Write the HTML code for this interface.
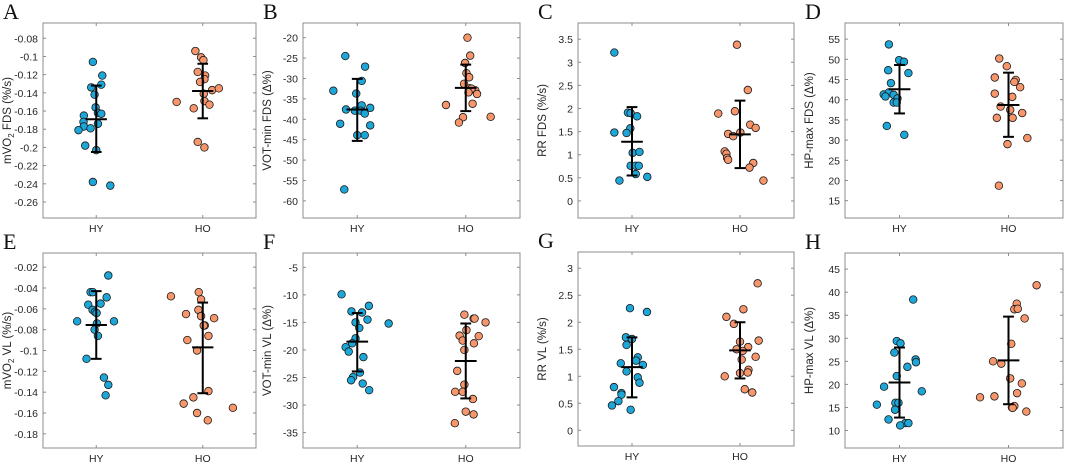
<!DOCTYPE html>
<html><head><meta charset="utf-8"><style>
html,body{margin:0;padding:0;background:#fff;}
svg{display:block;font-family:"Liberation Sans",Arial,sans-serif;}
</style></head><body>
<svg id="fig" width="1065" height="463" viewBox="0 0 1065 463"></svg>
<script>
// ---- Data ----
const categories = ["HY","HO"];
// Panel A: mVO2 FDS
const aTicks = [-0.08,-0.1,-0.12,-0.14,-0.16,-0.18,-0.2,-0.22,-0.24,-0.26];
const aHY = [-0.106,-0.121,-0.131,-0.134,-0.142,-0.156,-0.162,-0.163,-0.165,-0.172,-0.174,-0.177,-0.179,-0.181,-0.198,-0.203,-0.238,-0.242];
const aHYj = [-10,18,15,-15,-5,-2,5,15,-37,-38,5,-37,-17,-53,-33,0,-10,42];
const aHO = [-0.094,-0.101,-0.104,-0.117,-0.121,-0.125,-0.128,-0.137,-0.135,-0.141,-0.149,-0.153,-0.150,-0.157,-0.194,-0.200];
const aHOj = [-22,-5,2,-15,7,5,-8,28,48,3,5,20,-78,-27,-15,5];
const aStats = [[-0.169,-0.132,-0.205],[-0.138,-0.108,-0.168]];
// Panel B: VOT-min FDS
const bTicks = [-20,-25,-30,-35,-40,-45,-50,-55,-60];
const bHY = [-24.5,-27.1,-33,-30.6,-33.7,-37.6,-36.6,-37.2,-37.9,-37.9,-38.6,-41.1,-41.5,-43.9,-43.9,-57.2];
const bHYj = [-35,23,-70,13,-3,-33,13,38,-7,10,22,-50,38,0,22,-38];
const bHO = [-20,-24.4,-26.2,-28.7,-29.7,-31.3,-32.4,-32.9,-32.5,-33.4,-33.8,-36.2,-36.5,-39.5,-40.8,-39.4];
const bHOj = [5,13,-2,2,10,-5,12,28,17,8,33,20,-58,-8,-20,73];
const bStats = [[-37.6,-30.1,-45.3],[-32.3,-26.6,-38]];
// Panel C: RR FDS
const cTicks = [0,0.5,1,1.5,2,2.5,3,3.5];
const cTickLabels = ["0","0.5","1","1.5","2","2.5","3","3.5"];
const cHY = [3.21,1.48,1.91,1.9,1.83,1.57,1.47,1.04,1.06,0.76,0.76,0.76,0.58,0.52,0.44];
const cHYj = [-52,-52,-12,-4,15,-5,-16,2,22,-4,11,20,11,45,-37];
const cHO = [3.38,2.4,1.89,1.94,1.45,1.4,1.48,1.65,1.58,1.07,1.02,0.93,0.89,0.82,0.72,0.44];
const cHOj = [-9,23,-64,-15,-35,-20,1,30,46,-45,-40,-38,-35,39,28,69];
const cStats = [[1.28,2.03,0.55],[1.44,2.17,0.71]];
// Panel D: HP-max FDS
const dTicks = [15,20,25,30,35,40,45,50,55];
const dHY = [53.7,49.8,49.4,47.3,46.6,44.1,41.3,41.8,40.8,41.2,40.3,39.3,39.3,33.5,31.3];
const dHYj = [-31,-1,13,-33,26,-25,-46,-31,-41,-17,-6,-17,-8,-37,14];
const dHO = [50.2,48.3,45.5,44.9,44.4,43.1,41.5,40.7,38.3,37.5,35.5,35.5,36.7,29.0,30.5,18.7];
const dHOj = [-27,-5,-40,21,17,34,-40,11,-23,5,-34,12,40,-3,55,-28];
const dStats = [[42.6,48.6,36.6],[38.7,46.7,30.8]];
// Panel E: mVO2 VL
const eTicks = [-0.02,-0.04,-0.06,-0.08,-0.1,-0.12,-0.14,-0.16,-0.18];
const eHY = [-0.028,-0.044,-0.044,-0.049,-0.056,-0.055,-0.061,-0.063,-0.064,-0.072,-0.072,-0.074,-0.080,-0.086,-0.108,-0.126,-0.133,-0.143];
const eHYj = [36,-17,-10,31,-24,13,-11,-4,1,-57,53,2,-5,5,-29,23,36,28];
const eHO = [-0.048,-0.044,-0.051,-0.065,-0.061,-0.067,-0.069,-0.076,-0.076,-0.086,-0.090,-0.100,-0.139,-0.145,-0.151,-0.160,-0.167,-0.155];
const eHOj = [-95,-12,-5,-50,-13,-5,34,6,3,17,-46,-17,17,-28,-57,-17,15,90];
const eStats = [[-0.0755,-0.043,-0.108],[-0.097,-0.054,-0.141]];
// Panel F: VOT-min VL
const fTicks = [-5,-10,-15,-20,-25,-30,-35];
const fHY = [-9.9,-13,-13.2,-12,-14.5,-15,-15.2,-16,-17.9,-18.8,-19.5,-20.3,-21.3,-24.1,-24.9,-25.5,-26.1,-27.3];
const fHYj = [-46,-17,14,34,30,-5,92,6,-5,-15,-34,-25,18,8,-12,-18,16,35];
const fHO = [-13.6,-14.3,-14.3,-15,-16.4,-17.4,-17.5,-18.3,-18.8,-20,-23.8,-26.3,-27.6,-27.6,-28.9,-31.2,-31.7,-33.3];
const fHOj = [-4,23,26,58,2,-18,38,-9,24,-4,-25,-4,-31,-9,21,0,23,-32];
const fStats = [[-18.5,-13.3,-23.9],[-22,-15.2,-28.8]];
// Panel G: RR VL
const gTicks = [0,0.5,1,1.5,2,2.5,3];
const gTickLabels = ["0","0.5","1","1.5","2","2.5","3"];
const gHY = [2.26,2.19,1.72,1.69,1.58,1.35,1.29,1.24,1.21,1.09,0.98,0.88,0.8,0.69,0.66,0.54,0.46,0.38];
const gHYj = [-6,44,-18,0,-16,17,12,-33,32,-16,17,22,-53,-31,-31,-40,-59,-4];
const gHO = [2.72,2.24,2.1,1.97,1.64,1.66,1.54,1.5,1.47,1.36,1.31,1.12,1.06,1.07,1.0,0.76,0.7];
const gHOj = [52,10,-40,-18,0,55,24,-10,8,46,5,25,0,23,-45,14,36];
const gStats = [[1.17,1.72,0.61],[1.48,2.0,0.96]];
// Panel H: HP-max VL
const hTicks = [10,15,20,25,30,35,40,45];
const hHY = [38.4,29.4,28.9,26.9,25.4,24.8,23.8,21.8,19.5,18.5,16,16,15.6,14.5,12.4,11.6,11.6,11.1];
const hHYj = [40,-8,3,-15,47,48,23,-8,-45,65,-12,-3,-66,-13,-32,17,26,2];
const hHO = [41.5,37.5,36.3,36.4,34.3,28.8,25,24.5,21.3,20.2,18.1,17.2,17.4,15.3,15,14.9,14.1];
const hHOj = [82,24,17,27,47,8,-45,-21,5,39,25,-83,-41,17,10,12,52];
const hStats = [[20.4,28,12.8],[25.2,34.7,15.7]];

const panels = [
 {id:"A",box:[43,23,256,218],ylim:[-0.2776,-0.0632],ticks:aTicks,labels:null,hy:aHY,hyj:aHYj,ho:aHO,hoj:aHOj,st:aStats,yl:["mVO","2"," FDS  (%/s)"]},
 {id:"B",box:[303,23,520,218],ylim:[-64.2,-16.4],ticks:bTicks,labels:null,hy:bHY,hyj:bHYj,ho:bHO,hoj:bHOj,st:bStats,yl:["VOT-min  FDS  (Δ%)"]},
 {id:"C",box:[578,23,794,218],ylim:[-0.37,3.85],ticks:cTicks,labels:cTickLabels,hy:cHY,hyj:cHYj,ho:cHO,hoj:cHOj,st:cStats,yl:["RR FDS (%/s)"]},
 {id:"D",box:[845,23,1063,218],ylim:[10.7,59.0],ticks:dTicks,labels:null,hy:dHY,hyj:dHYj,ho:dHO,hoj:dHOj,st:dStats,yl:["HP-max  FDS  (Δ%)"]},
 {id:"E",box:[43,253,256,448],ylim:[-0.1936,-0.0064],ticks:eTicks,labels:null,hy:eHY,hyj:eHYj,ho:eHO,hoj:eHOj,st:eStats,yl:["mVO","2","  VL  (%/s)"]},
 {id:"F",box:[303,253,520,448],ylim:[-37.8,-2.4],ticks:fTicks,labels:null,hy:fHY,hyj:fHYj,ho:fHO,hoj:fHOj,st:fStats,yl:["VOT-min  VL  (Δ%)"]},
 {id:"G",box:[578,252,794,446],ylim:[-0.29,3.3],ticks:gTicks,labels:gTickLabels,hy:gHY,hyj:gHYj,ho:gHO,hoj:gHOj,st:gStats,yl:["RR VL (%/s)"]},
 {id:"H",box:[845,253,1063,448],ylim:[6.2,48.5],ticks:hTicks,labels:null,hy:hHY,hyj:hHYj,ho:hHO,hoj:hHOj,st:hStats,yl:["HP-max  VL  (Δ%)"]}
];
const NS="http://www.w3.org/2000/svg";
const svg=document.getElementById('fig');
function mk(tag,attrs,parent){const e=document.createElementNS(NS,tag);for(const k in attrs)e.setAttribute(k,attrs[k]);(parent||svg).appendChild(e);return e;}
panels.forEach(p=>{
  const [x0,y0,x1,y1]=p.box;
  const g=mk('g',{});
  
  
  const xS=v=>x0+(v-0.5)/2*(x1-x0);
  const yS=v=>y1-(v-p.ylim[0])/(p.ylim[1]-p.ylim[0])*(y1-y0);
  const lt=mk('text',{x:x0-40,y:y0-4,'font-family':'Liberation Serif,serif','font-size':22,fill:'#111'},g);
  lt.textContent=p.id;
  
  
  const bx=mk('rect',{x:x0,y:y0,width:x1-x0,height:y1-y0,fill:'#fff',stroke:'#8c8c8c','stroke-width':1},g);
  
  
  p.ticks.forEach((t,i)=>{
    const y=yS(t);
    mk('line',{x1:x0,x2:x0+3,y1:y,y2:y,stroke:'#8c8c8c'},g);
    mk('line',{x1:x1,x2:x1-3,y1:y,y2:y,stroke:'#8c8c8c'},g);
    const tx=mk('text',{x:x0-5,y:y+4,'text-anchor':'end','font-size':10.5,fill:'#262626'},g);
    tx.textContent=p.labels?p.labels[i]:String(t);
    
    
  });
  categories.forEach((c,i)=>{
    const x=xS(i+1);
    mk('line',{x1:x,x2:x,y1:y1,y2:y1-3,stroke:'#8c8c8c'},g);
    mk('line',{x1:x,x2:x,y1:y0,y2:y0+3,stroke:'#8c8c8c'},g);
    const tx=mk('text',{x:x,y:y1+14,'text-anchor':'middle','font-size':10.5,fill:'#262626'},g);
    tx.textContent=c;
    
    
  });
  const yc=(y0+y1)/2;
  const yl=mk('text',{x:0,y:0,'text-anchor':'middle','font-size':11.5,fill:'#262626',transform:`translate(${x0-32},${yc}) rotate(-90)`},g);
  
  
  if(p.yl.length===3){
    const a=mk('tspan',{},yl);a.textContent=p.yl[0];
    const b=mk('tspan',{'font-size':8,dy:3},yl);b.textContent=p.yl[1];
    const c=mk('tspan',{dy:-3},yl);c.textContent=p.yl[2];
  } else yl.textContent=p.yl[0];
  const groups=[[p.hy,p.hyj,1,'#1da6d8','hy'],[p.ho,p.hoj,2,'#f7956b','ho']];
  groups.forEach(([vals,jit,cx,col,nm])=>{
    vals.forEach((v,k)=>{
      const d=mk('circle',{cx:xS(cx+jit[k]/318),cy:yS(v),r:3.8,fill:col,stroke:'#1a1a1a','stroke-width':0.8},g);
      
      
    });
  });
  p.st.forEach((s,i)=>{
    const cx=i+1;
    const eb=mk('g',{stroke:'#000','stroke-width':2},g);
    
    
    mk('line',{x1:xS(cx),x2:xS(cx),y1:yS(s[1]),y2:yS(s[2])},eb);
    mk('line',{x1:xS(cx-0.05),x2:xS(cx+0.05),y1:yS(s[1]),y2:yS(s[1])},eb);
    mk('line',{x1:xS(cx-0.05),x2:xS(cx+0.05),y1:yS(s[2]),y2:yS(s[2])},eb);
    mk('line',{x1:xS(cx-0.1),x2:xS(cx+0.1),y1:yS(s[0]),y2:yS(s[0])},eb);
  });
});
</script>
</body></html>
